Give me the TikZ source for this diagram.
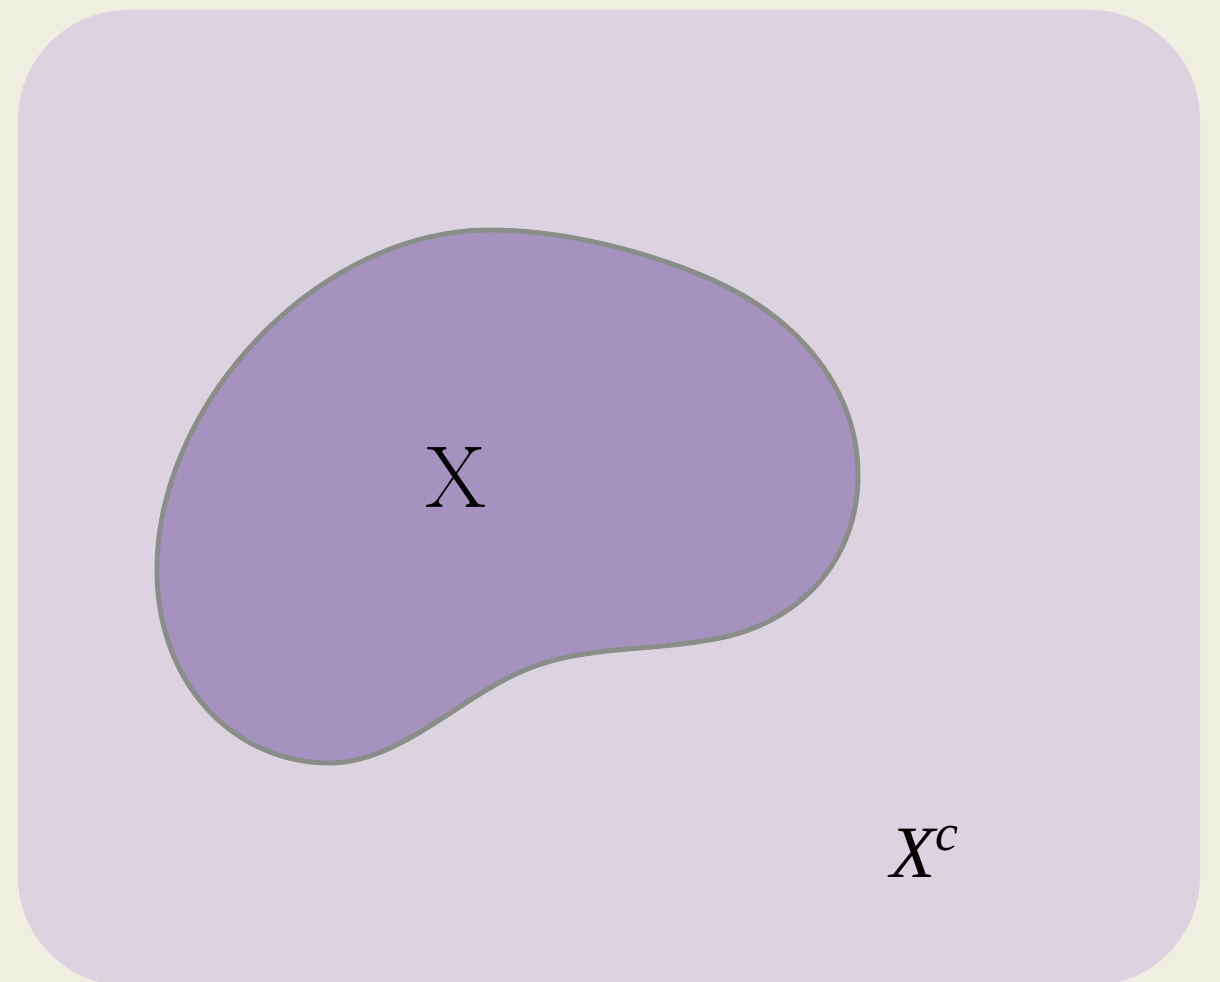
\documentclass[tikz,border=0pt]{standalone}
\usepackage{fontspec}
\setmainfont{Liberation Serif}
\newfontfamily\lmfont{Latin Modern Roman}
\usepackage{tikz}
\usepackage{xcolor}
\usetikzlibrary{positioning,calc}
\definecolor{paper}{HTML}{EEEEE1}
\definecolor{univlav}{HTML}{DCD3E1}
\definecolor{setpurple}{HTML}{A692BF}
\definecolor{rimgray}{HTML}{8A8E88}

\begin{document}
\begin{tikzpicture}[x=0.01cm,y=-0.01cm]
\useasboundingbox (0,0) rectangle (1220,982);
\fill[paper] (0,0) rectangle (1220,982);
\fill[univlav,rounded corners=1.1cm] (18,10) rectangle (1200,986);
\draw[rimgray,fill=setpurple,line width=1.4pt]
  (490,230) .. controls (580,230) and (680,262) .. (733,290)
  .. controls (800,325) and (858,390) .. (858,475)
  .. controls (858,560) and (800,622) .. (720,638)
  .. controls (650,652) and (590,645) .. (530,668)
  .. controls (460,695) and (400,765) .. (325,763)
  .. controls (230,760) and (155,680) .. (157,565)
  .. controls (160,400) and (320,230) .. (490,230) -- cycle;
\node (setX) at (456,477) {\fontsize{25}{30}\selectfont\lmfont X};
\node (compl) at (925,852) {\fontsize{21}{25}\selectfont\itshape X\textsuperscript{c}};
\end{tikzpicture}
\end{document}
